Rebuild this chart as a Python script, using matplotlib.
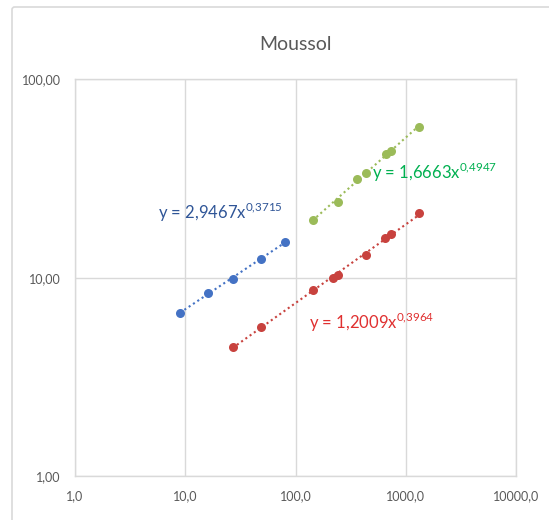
import matplotlib
matplotlib.use("Agg")
import matplotlib.pyplot as plt
import numpy as np
from matplotlib.patches import FancyBboxPatch
from matplotlib.ticker import FixedLocator, NullLocator

# ---- data ----
blue_x = [9.0, 16.1, 27.0, 49.0, 81.0]
blue_y = [6.64, 8.38, 9.89, 12.4, 15.1]
red_x = [27.0, 49.0, 144, 220, 243, 435, 651, 728, 1306]
red_y = [4.48, 5.63, 8.64, 9.93, 10.28, 13.0, 15.8, 16.6, 21.1]
green_x = [143, 244, 363, 435, 660, 728, 1315]
green_y = [19.5, 24.1, 31.5, 33.8, 41.8, 43.6, 57.1]

# trendline power-law coefficients (a, b) for y = a*x^b
blue_fit = (2.9467, 0.3715)
red_fit = (1.2009, 0.3964)
green_fit = (1.6663, 0.4947)

x_ticks = [1, 10, 100, 1000, 10000]
x_labels = ["1,0", "10,0", "100,0", "1000,0", "10000,0"]
y_ticks = [1, 10, 100]
y_labels = ["1,00", "10,00", "100,00"]
title = "Moussol"

plt.rcParams['font.family'] = ['Lato', 'DejaVu Sans']
plt.rcParams['mathtext.fontset'] = 'custom'
plt.rcParams['mathtext.rm'] = 'Lato'

fig = plt.figure(figsize=(5.49, 5.20), dpi=100)
fig.patch.set_facecolor('white')

# outer chart border
border = FancyBboxPatch((12/549, -0.05), 1.2, 1.05 - 7/520,
                        boxstyle="round,pad=0,rounding_size=0.005",
                        transform=fig.transFigure, fill=False,
                        edgecolor='#D9D9D9', linewidth=1.2)
fig.patches.append(border)

ax = fig.add_axes([74.7/549, 1 - 476.4/520, (516.3-74.7)/549, (476.4-79)/520])
ax.set_xscale('log')
ax.set_yscale('log')
ax.set_xlim(1, 10000)
ax.set_ylim(1, 100)

ax.xaxis.set_major_locator(FixedLocator(x_ticks))
ax.xaxis.set_minor_locator(NullLocator())
ax.yaxis.set_major_locator(FixedLocator(y_ticks))
ax.yaxis.set_minor_locator(NullLocator())
ax.set_xticklabels(x_labels)
ax.set_yticklabels(y_labels)
ax.tick_params(axis='both', length=0, labelsize=9, colors='#595959')
ax.tick_params(axis='x', pad=10)
ax.tick_params(axis='y', pad=10)
ax.grid(True, color='#D9D9D9', linewidth=1.0)
ax.set_axisbelow(True)
for s in ax.spines.values():
    s.set_color('#D9D9D9')
    s.set_linewidth(1.0)

series = [
    (blue_x, blue_y, blue_fit, '#4472C4'),
    (red_x, red_y, red_fit, '#C8423E'),
    (green_x, green_y, green_fit, '#9BBB59'),
]
for xs, ys, (a, b), c in series:
    xx = np.logspace(np.log10(min(xs)), np.log10(max(xs)), 100)
    ax.plot(xx, a * xx ** b, linestyle=(0, (1, 1.5)), color=c, linewidth=1.5, zorder=2)
    ax.plot(xs, ys, 'o', color=c, markersize=6.5, markeredgewidth=0, zorder=3)

def eq(a, b):
    sa = f"{a:.4f}".replace('.', ',')
    sb = f"{b:.4f}".replace('.', '{,}')
    return f"y = {sa}x$^{{\\mathregular{{{sb}}}}}$"

ax.text(5.68, 21.4, eq(*blue_fit), color='#2F5597', fontsize=12, ha='left', va='center', zorder=4)
ax.text(493, 34.0, eq(*green_fit), color='#00B050', fontsize=12, ha='left', va='center', zorder=4)
ax.text(132.8, 5.92, eq(*red_fit), color='#E03030', fontsize=12, ha='left', va='center', zorder=4)

fig.text(295.5/549, 1 - 44/520, title, ha='center', va='center', fontsize=14, color='#595959')

fig.savefig('out.png', dpi=100, facecolor='white')
